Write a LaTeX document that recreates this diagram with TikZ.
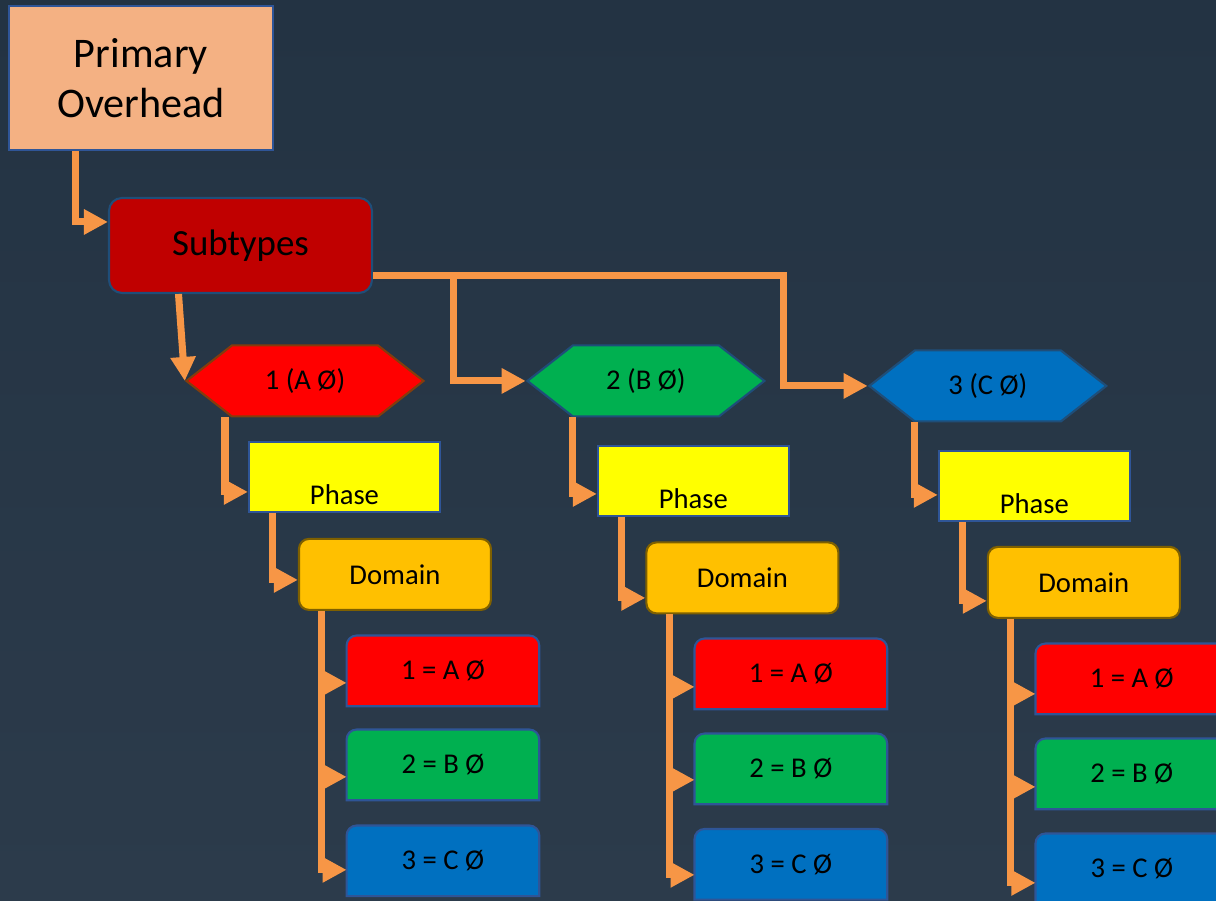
\documentclass[tikz,border=0pt]{standalone}
\usepackage{fontspec}
\setmainfont{Carlito}
\usetikzlibrary{shapes,arrows.meta,positioning,backgrounds}
\definecolor{navy}{HTML}{233343}
\definecolor{navylight}{HTML}{2C3B4B}
\definecolor{salmon}{HTML}{F4B183}
\definecolor{darkred}{HTML}{C00000}
\definecolor{brightred}{HTML}{FF0000}
\definecolor{msgreen}{HTML}{00B050}
\definecolor{msblue}{HTML}{0070C0}
\definecolor{msyellow}{HTML}{FFFF00}
\definecolor{msgold}{HTML}{FFC000}
\definecolor{edgeblue}{HTML}{2F5597}
\definecolor{edgedark}{HTML}{1F4E79}
\definecolor{edgebrown}{HTML}{843C0C}
\definecolor{edgegold}{HTML}{7F6000}
\definecolor{wire}{HTML}{F79646}
\tikzstyle{smalltext} = [font=\fontsize{16.3}{19}\selectfont]
\tikzstyle{overhead} = [rectangle, draw=edgeblue, line width=1.2pt, fill=salmon,
    minimum width=5.28cm, minimum height=2.88cm, align=center, font=\fontsize{24}{28.5}\selectfont]
\tikzstyle{subtype} = [rectangle, rounded corners=0.26cm, draw=edgedark, line width=1.2pt, fill=darkred,
    minimum width=5.26cm, minimum height=1.9cm, font=\fontsize{21}{25}\selectfont]
\tikzstyle{hexbox} = [signal, signal to=west and east, signal pointer angle=76, draw=edgedark,
    line width=1.2pt, minimum width=4.74cm, minimum height=1.42cm, smalltext]
\tikzstyle{phasebox} = [rectangle, draw=edgeblue, line width=1.2pt, fill=msyellow,
    minimum width=3.82cm, minimum height=1.4cm, smalltext]
\tikzstyle{domainbox} = [rectangle, rounded corners=0.2cm, draw=edgegold, line width=1.2pt, fill=msgold,
    minimum width=3.84cm, minimum height=1.42cm, smalltext]
\tikzstyle{leafbox} = [rectangle, minimum width=3.84cm, minimum height=1.4cm, smalltext]
\tikzstyle{tabshape} = [draw=edgeblue, line width=1.2pt]
\tikzstyle{line} = [draw=wire, line width=4pt, -{Triangle[length=0.48cm, width=0.48cm]}]
\begin{document}
\begin{tikzpicture}[x=0.02cm, y=-0.02cm, on grid]
    \useasboundingbox (0,0) rectangle (1216,901);
    % Place nodes

    \node [overhead] (primary) at (141,78) {Primary\\Overhead};
    \node [subtype, below right=3.35cm and 1.99cm of primary] (subtypes) {Subtypes};
    \node [hexbox, fill=brightred, draw=edgebrown, below right=2.71cm and 1.29cm of subtypes] (typea) {1 (A Ø)};
    \node [hexbox, fill=msgreen, right=6.82cm of typea] (typeb) {2 (B Ø)};
    \node [hexbox, fill=msblue, below right=0.1cm and 6.84cm of typeb] (typec) {3 (C Ø)};

    \node [phasebox, below right=1.92cm and 0.79cm of typea] (phasea) {\smash{\raisebox{-0.55cm}{Phase}}};
    \node [phasebox, below right=2.0cm and 0.95cm of typeb] (phaseb) {\smash{\raisebox{-0.55cm}{Phase}}};
    \node [phasebox, below right=2.01cm and 0.93cm of typec] (phasec) {\smash{\raisebox{-0.55cm}{Phase}}};

    \node [domainbox, below right=1.95cm and 1.01cm of phasea] (domaina) {Domain};
    \node [domainbox, below right=1.94cm and 0.98cm of phaseb] (domainb) {Domain};
    \node [domainbox, below right=1.92cm and 0.99cm of phasec] (domainc) {Domain};

    \node [leafbox, below right=1.93cm and 0.96cm of domaina] (leafa1) {1 = A Ø};
    \node [leafbox, below=1.88cm of leafa1] (leafa2) {2 = B Ø};
    \node [leafbox, below=1.92cm of leafa2] (leafa3) {3 = C Ø};
    \node [leafbox, below right=1.92cm and 0.97cm of domainb] (leafb1) {1 = A Ø};
    \node [leafbox, below=1.9cm of leafb1] (leafb2) {2 = B Ø};
    \node [leafbox, below=1.91cm of leafb2] (leafb3) {3 = C Ø};
    \node [leafbox, below right=1.93cm and 0.96cm of domainc] (leafc1) {1 = A Ø};
    \node [leafbox, below=1.9cm of leafc1] (leafc2) {2 = B Ø};
    \node [leafbox, below=1.9cm of leafc2] (leafc3) {3 = C Ø};

    % Background and tab shapes behind the leaf texts
    \begin{pgfonlayer}{background}
    \shade [top color=navy, bottom color=navylight] (0,0) rectangle (1216,901);
    \draw [tabshape, fill=brightred] (leafa1.south west) [rounded corners=0.2cm] -- (leafa1.north west) -- (leafa1.north east) [sharp corners] -- (leafa1.south east) -- cycle;
    \draw [tabshape, fill=msgreen] (leafa2.south west) [rounded corners=0.2cm] -- (leafa2.north west) -- (leafa2.north east) [sharp corners] -- (leafa2.south east) -- cycle;
    \draw [tabshape, fill=msblue] (leafa3.south west) [rounded corners=0.2cm] -- (leafa3.north west) -- (leafa3.north east) [sharp corners] -- (leafa3.south east) -- cycle;
    \draw [tabshape, fill=brightred] (leafb1.south west) [rounded corners=0.2cm] -- (leafb1.north west) -- (leafb1.north east) [sharp corners] -- (leafb1.south east) -- cycle;
    \draw [tabshape, fill=msgreen] (leafb2.south west) [rounded corners=0.2cm] -- (leafb2.north west) -- (leafb2.north east) [sharp corners] -- (leafb2.south east) -- cycle;
    \draw [tabshape, fill=msblue] (leafb3.south west) [rounded corners=0.2cm] -- (leafb3.north west) -- (leafb3.north east) [sharp corners] -- (leafb3.south east) -- cycle;
    \draw [tabshape, fill=brightred] (leafc1.south west) [rounded corners=0.2cm] -- (leafc1.north west) -- (leafc1.north east) [sharp corners] -- (leafc1.south east) -- cycle;
    \draw [tabshape, fill=msgreen] (leafc2.south west) [rounded corners=0.2cm] -- (leafc2.north west) -- (leafc2.north east) [sharp corners] -- (leafc2.south east) -- cycle;
    \draw [tabshape, fill=msblue] (leafc3.south west) [rounded corners=0.2cm] -- (leafc3.north west) -- (leafc3.north east) [sharp corners] -- (leafc3.south east) -- cycle;
    \end{pgfonlayer}

    % Draw edges
    \path [line] ([xshift=-1.32cm]primary.south) |- ([yshift=0.47cm]subtypes.west);
    \path [line] ([xshift=-1.24cm]subtypes.south) -- (typea.west);
    \path [line] ([yshift=-0.61cm]subtypes.east) -| ([xshift=-1.44cm]typeb.west) -- (typeb.west);
    \path [line] ([yshift=-0.61cm]subtypes.east) -| ([xshift=-1.69cm]typec.west) -- (typec.west);

    \path [line] ([xshift=-1.6cm]typea.south) |- ([yshift=-0.3cm]phasea.west);
    \path [line] ([xshift=-1.46cm]typeb.south) |- ([yshift=-0.26cm]phaseb.west);
    \path [line] ([xshift=-1.46cm]typec.south) |- ([yshift=-0.17cm]phasec.west);

    \path [line] ([xshift=-1.43cm]phasea.south) |- ([yshift=-0.11cm]domaina.west);
    \path [line] ([xshift=-1.43cm]phaseb.south) |- ([yshift=-0.4cm]domainb.west);
    \path [line] ([xshift=-1.43cm]phasec.south) |- ([yshift=-0.37cm]domainc.west);

    \path [line] ([xshift=-1.46cm]domaina.south) |- ([yshift=-0.24cm]leafa1.west);
    \path [line] ([xshift=-1.46cm]domaina.south) |- ([yshift=-0.24cm]leafa2.west);
    \path [line] ([xshift=-1.46cm]domaina.south) |- ([yshift=-0.18cm]leafa3.west);
    \path [line] ([xshift=-1.45cm]domainb.south) |- ([yshift=-0.26cm]leafb1.west);
    \path [line] ([xshift=-1.45cm]domainb.south) |- ([yshift=-0.22cm]leafb2.west);
    \path [line] ([xshift=-1.45cm]domainb.south) |- ([yshift=-0.21cm]leafb3.west);
    \path [line] ([xshift=-1.46cm]domainc.south) |- ([yshift=-0.3cm]leafc1.west);
    \path [line] ([xshift=-1.46cm]domainc.south) |- ([yshift=-0.26cm]leafc2.west);
    \path [line] ([xshift=-1.46cm]domainc.south) |- ([yshift=-0.28cm]leafc3.west);
\end{tikzpicture}
\end{document}
